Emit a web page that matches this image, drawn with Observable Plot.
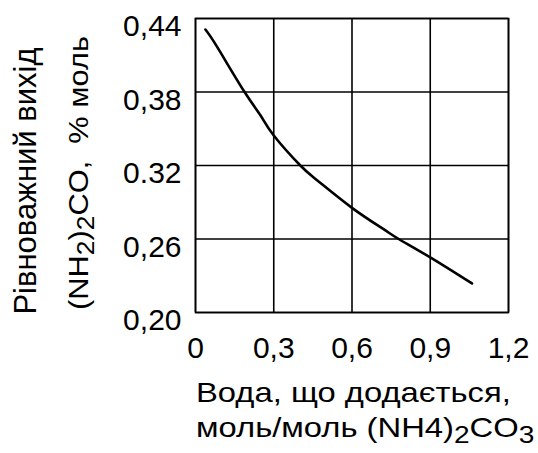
<!DOCTYPE html>
<html><head><meta charset="utf-8">
<script src="https://cdn.jsdelivr.net/npm/d3@7"></script>
<script src="https://cdn.jsdelivr.net/npm/@observablehq/plot@0.6"></script>
<style>body{margin:0;background:#fff;font-family:"Liberation Sans",Arial,sans-serif;}</style>
</head><body><div id="chart"></div>
<script>
const waterX = [0.038, 0.083, 0.185, 0.249, 0.30, 0.402, 0.466, 0.60, 0.721, 0.779, 0.90, 1.06];
const yieldY = [0.431, 0.4168, 0.381, 0.361, 0.3445, 0.32, 0.308, 0.2854, 0.268, 0.26, 0.245, 0.2237];
const xTicks = [0, 0.3, 0.6, 0.9, 1.2];
const xTickLabels = ["0", "0,3", "0,6", "0,9", "1,2"];
const yTicks = [0.20, 0.26, 0.32, 0.38, 0.44];
const yTickLabels = ["0,20", "0,26", "0.32", "0,38", "0,44"];

const data = waterX.map((x, i) => ({x, y: yieldY[i]}));
const font = '"Liberation Sans", Arial, sans-serif';
const xFmt = d => xTickLabels[xTicks.findIndex(t => Math.abs(t - d) < 1e-9)];
const yFmt = d => yTickLabels[yTicks.findIndex(t => Math.abs(t - d) < 1e-9)];

const plot = Plot.plot({
  width: 538, height: 453,
  marginTop: 18, marginBottom: 141, marginLeft: 195, marginRight: 30,
  style: {fontFamily: font, fontSize: "30px", color: "#000", background: "#fff"},
  x: {domain: [0, 1.2]},
  y: {domain: [0.20, 0.44]},
  marks: [
    Plot.gridX(xTicks, {stroke: "#000", strokeOpacity: 1, strokeWidth: 1.6}),
    Plot.gridY(yTicks, {stroke: "#000", strokeOpacity: 1, strokeWidth: 1.6}),
    Plot.frame({stroke: "#000", strokeWidth: 1.6}),
    Plot.axisY({ticks: yTicks, tickFormat: yFmt, tickSize: 0, tickPadding: 14, dy: 8, label: null}),
    Plot.axisX({ticks: xTicks, tickFormat: xFmt, tickSize: 0, tickPadding: 24, label: null}),
    Plot.line(data, {x: "x", y: "y", stroke: "#000", strokeWidth: 2.6, curve: "natural"})
  ]
});
document.getElementById("chart").appendChild(plot);

const svg = d3.select(plot);
function stretch(sel, f) {
  const len = sel.node().getComputedTextLength();
  sel.attr("textLength", len * f).attr("lengthAdjust", "spacingAndGlyphs");
}
// Y axis titles (rotated)
svg.append("text").attr("transform", "translate(36,181) rotate(-90)")
  .attr("text-anchor", "middle").attr("font-family", font).attr("font-size", 31).attr("fill", "#000")
  .text("Рівноважний вихід");
const t2 = svg.append("text").attr("transform", "translate(88,173) rotate(-90)")
  .attr("text-anchor", "middle").attr("font-family", font).attr("font-size", 28).attr("fill", "#000");
t2.append("tspan").text("(NH");
t2.append("tspan").attr("baseline-shift", "-25%").attr("font-size", 24).text("2");
t2.append("tspan").text(")");
t2.append("tspan").attr("baseline-shift", "-25%").attr("font-size", 24).text("2");
t2.append("tspan").text("CO,  % моль");
stretch(t2, 1.1);
// X axis title
const x1 = svg.append("text").attr("x", 196).attr("y", 402).attr("text-anchor", "start")
  .attr("font-family", font).attr("font-size", 28).attr("fill", "#000")
  .text("Вода, що додається,");
stretch(x1, 1.17);
const t3 = svg.append("text").attr("x", 196).attr("y", 437).attr("text-anchor", "start")
  .attr("font-family", font).attr("font-size", 28).attr("fill", "#000");
t3.append("tspan").text("моль/моль (NH4)");
t3.append("tspan").attr("baseline-shift", "-25%").attr("font-size", 24).text("2");
t3.append("tspan").attr("baseline-shift", "0%").text("CO");
t3.append("tspan").attr("baseline-shift", "-25%").attr("font-size", 24).text("3");
stretch(t3, 1.17);
</script></body></html>
